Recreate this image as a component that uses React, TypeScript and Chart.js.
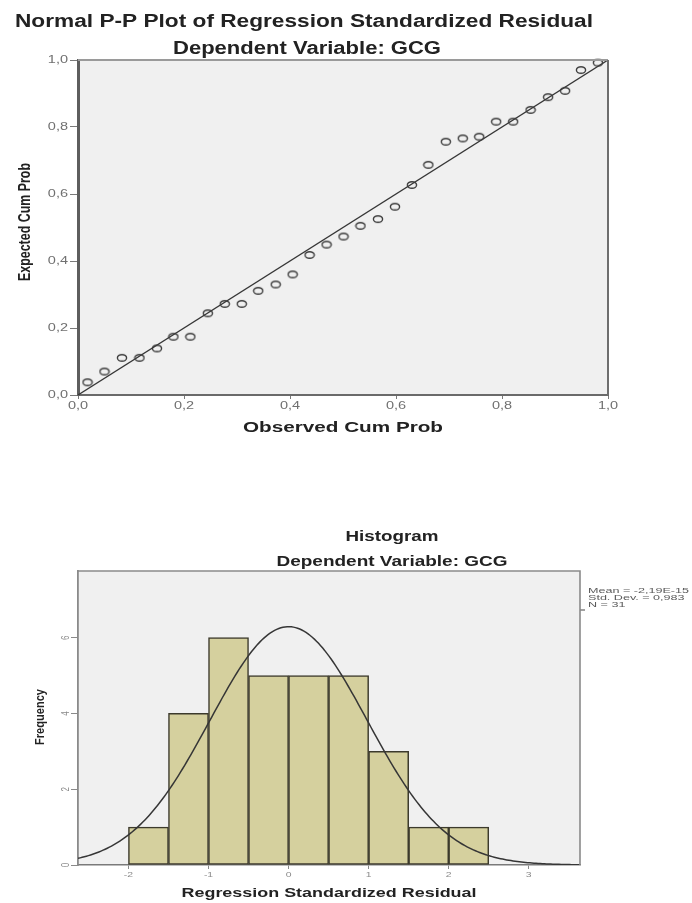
import React, { useEffect, useRef } from "react";
import { Chart, registerables } from "chart.js";

Chart.register(...registerables);

// ---------- P-P plot data ----------
const PP_OBSERVED = [
  0.018, 0.05, 0.083, 0.116, 0.149, 0.18, 0.212, 0.245, 0.277, 0.309, 0.34,
  0.373, 0.405, 0.437, 0.469, 0.501, 0.533, 0.566, 0.598, 0.63, 0.661, 0.694,
  0.726, 0.757, 0.789, 0.821, 0.854, 0.887, 0.919, 0.949, 0.981,
];
const PP_EXPECTED = [
  0.038, 0.07, 0.111, 0.111, 0.139, 0.174, 0.174, 0.244, 0.272, 0.272, 0.311,
  0.33, 0.36, 0.418, 0.449, 0.473, 0.505, 0.525, 0.562, 0.627, 0.687, 0.756,
  0.766, 0.771, 0.816, 0.816, 0.851, 0.889, 0.908, 0.97, 0.992,
];
const REF_LINE = [0, 1];
const PP_TICKS = [0, 0.2, 0.4, 0.6, 0.8, 1.0];
const PP_TICK_LABELS = ["0,0", "0,2", "0,4", "0,6", "0,8", "1,0"];
const PP_TITLE = "Normal P-P Plot of Regression Standardized Residual";
const SUBTITLE = "Dependent Variable: GCG";
const PP_X_TITLE = "Observed Cum Prob";
const PP_Y_TITLE = "Expected Cum Prob";

// ---------- Histogram data ----------
const BIN_CENTERS = [-1.75, -1.25, -0.75, -0.25, 0.25, 0.75, 1.25, 1.75, 2.25];
const FREQUENCIES = [1, 4, 6, 5, 5, 5, 3, 1, 1];
const BIN_WIDTH = 0.5;
const HIST_X_MIN = -2.63;
const HIST_X_MAX = 3.64;
const HIST_Y_MAX = 7.76;
const HIST_X_TICKS = [-2, -1, 0, 1, 2, 3];
const HIST_X_TICK_LABELS = ["-2", "-1", "0", "1", "2", "3"];
const HIST_Y_TICKS = [0, 2, 4, 6];
const HIST_Y_TICK_LABELS = ["0", "2", "4", "6"];
const MEAN = -2.19e-15;
const STD_DEV = 0.983;
const N = 31;
const STATS_LINES = ["Mean = -2,19E-15", "Std. Dev. = 0,983", "N = 31"];
const HIST_TITLE = "Histogram";
const HIST_X_TITLE = "Regression Standardized Residual";
const HIST_Y_TITLE = "Frequency";

const BOLD = "'Liberation Sans', Arial, sans-serif";

type TextOpts = {
  font: string;
  color: string;
  align?: CanvasTextAlign;
  width?: number;
  sx?: number;
  sy?: number;
  rotate?: boolean;
};

function drawText(ctx: CanvasRenderingContext2D, text: string, x: number, y: number, o: TextOpts) {
  ctx.save();
  ctx.font = o.font;
  ctx.fillStyle = o.color;
  ctx.textAlign = o.align || "center";
  ctx.textBaseline = "middle";
  const w = ctx.measureText(text).width;
  const sx = o.width ? o.width / w : o.sx || 1;
  const sy = o.sy || 1;
  ctx.translate(x, y);
  if (o.rotate) ctx.rotate(-Math.PI / 2);
  ctx.scale(sx, sy);
  ctx.fillText(text, 0, 0);
  ctx.restore();
}

function makeEllipseMarker(): HTMLCanvasElement {
  const c = document.createElement("canvas");
  c.width = 12;
  c.height = 10;
  const g = c.getContext("2d")!;
  g.strokeStyle = "#3c3c3c";
  g.lineWidth = 1.4;
  g.beginPath();
  g.ellipse(6, 5, 4.6, 3.3, 0, 0, Math.PI * 2);
  g.stroke();
  return c;
}

function normalCurve(): { x: number; y: number }[] {
  const pts: { x: number; y: number }[] = [];
  const steps = 240;
  for (let i = 0; i <= steps; i++) {
    const x = HIST_X_MIN + ((HIST_X_MAX - HIST_X_MIN) * i) / steps;
    const z = (x - MEAN) / STD_DEV;
    const y = (N * BIN_WIDTH * Math.exp(-0.5 * z * z)) / (STD_DEV * Math.sqrt(2 * Math.PI));
    pts.push({ x, y });
  }
  return pts;
}

const ppDecor = {
  id: "ppDecor",
  beforeDraw(chart: any) {
    const { ctx, chartArea: a } = chart;
    ctx.save();
    ctx.fillStyle = "#f0f0f0";
    ctx.fillRect(a.left, a.top, a.right - a.left, a.bottom - a.top);
    ctx.restore();
  },
  afterDraw(chart: any) {
    const { ctx, chartArea: a } = chart;
    ctx.save();
    ctx.strokeStyle = "#9a9a9a";
    ctx.lineWidth = 2;
    ctx.beginPath();
    ctx.moveTo(a.left, a.top);
    ctx.lineTo(a.right, a.top);
    ctx.stroke();
    ctx.strokeStyle = "#6e6e6e";
    ctx.beginPath();
    ctx.moveTo(a.right, a.top);
    ctx.lineTo(a.right, a.bottom);
    ctx.stroke();
    ctx.restore();

    const xs = chart.scales.x;
    const ys = chart.scales.y;
    xs.ticks.forEach((t: any, i: number) => {
      drawText(ctx, PP_TICK_LABELS[i], xs.getPixelForValue(t.value), a.bottom + 11, {
        font: "10px 'Liberation Sans', Arial, sans-serif",
        color: "#707070",
        sx: 1.45,
      });
    });
    ys.ticks.forEach((t: any, i: number) => {
      drawText(ctx, PP_TICK_LABELS[i], a.left - 10, ys.getPixelForValue(t.value), {
        font: "10px 'Liberation Sans', Arial, sans-serif",
        color: "#707070",
        align: "right",
        sx: 1.45,
      });
    });

    drawText(ctx, PP_TITLE, 304, 22, { font: `bold 18px ${BOLD}`, color: "#222222", width: 578 });
    drawText(ctx, SUBTITLE, 307, 49, { font: `bold 18px ${BOLD}`, color: "#222222", width: 268 });
    drawText(ctx, PP_X_TITLE, (a.left + a.right) / 2, 428, {
      font: `bold 14px ${BOLD}`,
      color: "#222222",
      width: 200,
    });
    drawText(ctx, PP_Y_TITLE, 26, 222, {
      font: `bold 13px ${BOLD}`,
      color: "#222222",
      width: 118,
      sy: 1.2,
      rotate: true,
    });
  },
};

const histDecor = {
  id: "histDecor",
  beforeDraw(chart: any) {
    const { ctx, chartArea: a } = chart;
    ctx.save();
    ctx.fillStyle = "#f0f0f0";
    ctx.fillRect(a.left, a.top, a.right - a.left, a.bottom - a.top);
    ctx.restore();
  },
  afterDraw(chart: any) {
    const { ctx, chartArea: a } = chart;
    ctx.save();
    ctx.strokeStyle = "#8a8a8a";
    ctx.lineWidth = 1.6;
    ctx.beginPath();
    ctx.moveTo(a.left, a.top);
    ctx.lineTo(a.right, a.top);
    ctx.lineTo(a.right, a.bottom);
    ctx.stroke();
    ctx.beginPath();
    ctx.moveTo(a.right, 150);
    ctx.lineTo(a.right + 5, 150);
    ctx.stroke();
    ctx.restore();

    const xs = chart.scales.x;
    const ys = chart.scales.y;
    xs.ticks.forEach((t: any, i: number) => {
      drawText(ctx, HIST_X_TICK_LABELS[i], xs.getPixelForValue(t.value), a.bottom + 10, {
        font: "8px 'Liberation Sans', Arial, sans-serif",
        color: "#8a8a8a",
        sx: 1.3,
      });
    });
    ys.ticks.forEach((t: any, i: number) => {
      drawText(ctx, HIST_Y_TICK_LABELS[i], a.left - 12, ys.getPixelForValue(t.value), {
        font: "8px 'Liberation Sans', Arial, sans-serif",
        color: "#8a8a8a",
        rotate: true,
        sy: 1.3,
      });
    });

    drawText(ctx, HIST_TITLE, 392, 77, { font: `bold 15px ${BOLD}`, color: "#222222", width: 93 });
    drawText(ctx, SUBTITLE, 392, 102, { font: `bold 15px ${BOLD}`, color: "#222222", width: 231 });

    ctx.save();
    ctx.font = "8px 'Liberation Sans', Arial, sans-serif";
    const sx = 101 / ctx.measureText(STATS_LINES[0]).width;
    ctx.restore();
    STATS_LINES.forEach((s, i) => {
      drawText(ctx, s, 588, 131 + i * 7, {
        font: "8px 'Liberation Sans', Arial, sans-serif",
        color: "#5a5a5a",
        align: "left",
        sx,
      });
    });

    drawText(ctx, HIST_X_TITLE, (a.left + a.right) / 2, 433, {
      font: `bold 13.5px ${BOLD}`,
      color: "#222222",
      width: 295,
    });
    drawText(ctx, HIST_Y_TITLE, 40, 257, {
      font: `bold 11px ${BOLD}`,
      color: "#222222",
      width: 56,
      sy: 1.2,
      rotate: true,
    });
  },
};

function PPChart() {
  const ref = useRef<HTMLCanvasElement>(null);
  useEffect(() => {
    const marker = makeEllipseMarker();
    const chart = new Chart(ref.current!, {
      type: "scatter",
      data: {
        datasets: [
          {
            type: "line",
            data: REF_LINE.map((v) => ({ x: v, y: v })),
            borderColor: "#363636",
            borderWidth: 1.3,
            pointRadius: 0,
            fill: false,
            order: 1,
          } as any,
          {
            data: PP_OBSERVED.map((x, i) => ({ x, y: PP_EXPECTED[i] })),
            pointStyle: marker as any,
            pointRadius: 5,
            clip: false as any,
            order: 0,
          },
        ],
      },
      options: {
        responsive: false,
        animation: false,
        events: [],
        layout: { padding: { left: 0, top: 60, right: 84, bottom: 0 } },
        plugins: { legend: { display: false }, tooltip: { enabled: false }, title: { display: false } },
        scales: {
          x: {
            type: "linear",
            min: 0,
            max: 1,
            afterBuildTicks: (s: any) => {
              s.ticks = PP_TICKS.map((v) => ({ value: v }));
            },
            afterFit: (s: any) => {
              s.height = 65;
            },
            ticks: { display: false },
            grid: { offset: false, drawOnChartArea: false, drawTicks: true, tickLength: 4, tickColor: "#7a7a7a", tickWidth: 1 },
            border: { display: true, color: "#6a6a6a", width: 2 },
          },
          y: {
            type: "linear",
            min: 0,
            max: 1,
            afterBuildTicks: (s: any) => {
              s.ticks = PP_TICKS.map((v) => ({ value: v }));
            },
            afterFit: (s: any) => {
              s.width = 78;
            },
            ticks: { display: false },
            grid: { offset: false, drawOnChartArea: false, drawTicks: true, tickLength: 8, tickColor: "#7a7a7a", tickWidth: 1 },
            border: { display: true, color: "#5e5e5e", width: 3 },
          },
        },
      } as any,
      plugins: [ppDecor],
    });
    return () => chart.destroy();
  }, []);
  return <canvas ref={ref} width={692} height={460} style={{ display: "block", position: "absolute", left: 0, top: 0 }} />;
}

function HistChart() {
  const ref = useRef<HTMLCanvasElement>(null);
  useEffect(() => {
    const chart = new Chart(ref.current!, {
      type: "bar",
      data: {
        datasets: [
          {
            type: "line",
            data: normalCurve(),
            borderColor: "#363636",
            borderWidth: 1.5,
            pointRadius: 0,
            fill: false,
            tension: 0,
            order: 0,
          } as any,
          {
            type: "bar",
            data: BIN_CENTERS.map((x, i) => ({ x, y: FREQUENCIES[i] })),
            backgroundColor: "#d5d09e",
            borderColor: "#3c3a2c",
            borderWidth: 1.5,
            borderSkipped: false,
            barPercentage: 1,
            categoryPercentage: 1,
            order: 1,
          } as any,
        ],
      },
      options: {
        responsive: false,
        animation: false,
        events: [],
        layout: { padding: { left: 0, top: 111, right: 112, bottom: 0 } },
        plugins: { legend: { display: false }, tooltip: { enabled: false }, title: { display: false } },
        scales: {
          x: {
            type: "linear",
            min: HIST_X_MIN,
            max: HIST_X_MAX,
            offset: false,
            afterBuildTicks: (s: any) => {
              s.ticks = HIST_X_TICKS.map((v) => ({ value: v }));
            },
            afterFit: (s: any) => {
              s.height = 38;
            },
            ticks: { display: false },
            grid: { offset: false, drawOnChartArea: false, drawTicks: true, tickLength: 4, tickColor: "#8a8a8a", tickWidth: 1 },
            border: { display: true, color: "#7a7a7a", width: 1.6 },
          },
          y: {
            type: "linear",
            min: 0,
            max: HIST_Y_MAX,
            afterBuildTicks: (s: any) => {
              s.ticks = HIST_Y_TICKS.map((v) => ({ value: v }));
            },
            afterFit: (s: any) => {
              s.width = 78;
            },
            ticks: { display: false },
            grid: { offset: false, drawOnChartArea: false, drawTicks: true, tickLength: 7, tickColor: "#8a8a8a", tickWidth: 1 },
            border: { display: true, color: "#8a8a8a", width: 1.8 },
          },
        },
      } as any,
      plugins: [histDecor],
    });
    return () => chart.destroy();
  }, []);
  return <canvas ref={ref} width={692} height={443} style={{ display: "block", position: "absolute", left: 0, top: 460 }} />;
}

export default function App() {
  return (
    <div style={{ position: "absolute", left: 0, top: 0, width: 692, height: 903, background: "#ffffff" }}>
      <PPChart />
      <HistChart />
    </div>
  );
}
